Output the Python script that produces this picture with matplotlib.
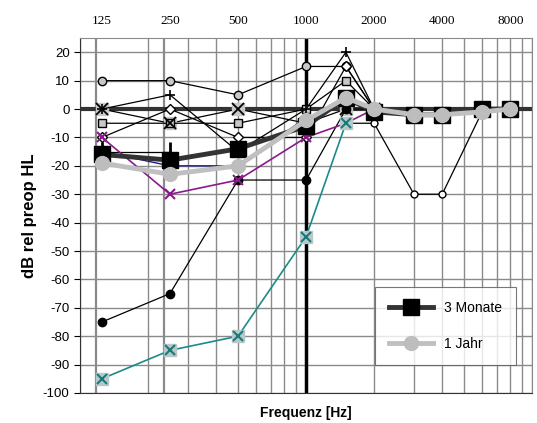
import matplotlib.pyplot as plt
import numpy as np
from matplotlib.ticker import FixedLocator, NullFormatter, NullLocator

nan = np.nan

# frequencies (Hz)
freqs = [125, 250, 500, 1000, 1500, 2000, 3000, 4000, 6000, 8000]
top_ticks = [125, 250, 500, 1000, 2000, 4000, 8000]

# mean curves
monate3 = [-16, -18, -14, -6, 4, -1, -2, -2, 0, 0]
jahr1 = [-19, -23, -20, -4, 4, 0, -2, -2, -1, 0]

# individual patients (thin lines)
p_circle = [10, 10, 5, 15, 15, 0, nan, nan, nan, nan]
p_xsq = [0, -5, 0, -5, 0, 0, nan, nan, nan, nan]
p_diamond = [-10, 0, -10, -10, 15, 0, nan, nan, nan, nan]
p_square = [-5, -5, -5, 0, 10, 0, nan, nan, nan, nan]
p_tri = [0, 5, -15, 0, 20, 0, nan, nan, nan, nan]
p_dot = [-75, -65, -25, -25, 0, nan, nan, nan, nan, nan]
p_teal = [-95, -85, -80, -45, -5, nan, nan, nan, nan, nan]
p_purple = [-10, -30, -25, -10, -5, 0, nan, nan, nan, nan]
p_navy = [-15, -20, -20, -3, nan, nan, nan, nan, nan, nan]
p_open = [nan, nan, nan, nan, -5, -5, -30, -30, -1, nan]
p_bar = [-15, -15, nan, nan, nan, nan, nan, nan, nan, nan]

fig = plt.figure(figsize=(5.37, 4.23), dpi=100)
ax = fig.add_axes([0.149, 0.071, 0.842, 0.839])

ax.set_xscale('log')
ax.set_xlim(100, 10000)
ax.set_ylim(-100, 25)

# grid
ax.xaxis.set_major_locator(FixedLocator([100, 1000, 10000]))
ax.xaxis.set_minor_locator(FixedLocator([f * d for d in (100, 1000) for f in range(2, 10)]))
ax.xaxis.set_major_formatter(NullFormatter())
ax.xaxis.set_minor_formatter(NullFormatter())
ax.tick_params(axis='x', which='both', length=0)
ax.set_yticks(np.arange(-100, 21, 10))
ax.grid(True, which='both', axis='x', color='#8a8a8a', lw=1)
ax.grid(True, which='major', axis='y', color='#8a8a8a', lw=1)
for f in (118, 235):
    ax.axvline(f, color='#8a8a8a', lw=1.6, zorder=1)
ax.axvline(1000, color='black', lw=2.5, zorder=2)
ax.axhline(0, color='#333333', lw=3, zorder=2)

for s in ('top', 'right'):
    ax.spines[s].set_color('#8a8a8a')
ax.spines['left'].set_color('#333333')
ax.spines['bottom'].set_color('#333333')

ax.set_yticklabels([str(v) for v in range(-100, 21, 10)], fontsize=9.5,
                   family='Liberation Sans')
ax.tick_params(axis='y', length=4)

# thin patient lines
thin = dict(color='black', lw=0.9, zorder=3)
ax.plot(freqs, p_circle, marker='o', ms=6, mfc='#c8c8c8', mec='black', **thin)
ax.plot(freqs, p_xsq, marker='s', ms=8, mfc='#c8c8c8', mec='#c8c8c8', **thin)
ax.plot(freqs, p_xsq, marker='x', ms=8, mew=1.3, color='black', lw=0, zorder=4)
ax.plot(freqs, p_diamond, marker='D', ms=5, mfc='white', mec='black', **thin)
ax.plot(freqs, p_square, marker='s', ms=6, mfc='#c8c8c8', mec='black', **thin)
ax.plot(freqs, p_tri, marker='+', ms=7, mew=1.2, **thin)
ax.plot(freqs, p_dot, marker='o', ms=6, mfc='black', mec='black', **thin)
ax.plot(freqs, p_open, marker='o', ms=5, mfc='white', mec='black', **thin)
ax.plot(freqs, p_bar, marker='|', ms=14, mew=2, **thin)
ax.plot(freqs, p_navy, color='#1a1a8c', lw=1, zorder=3)
ax.plot(freqs, p_purple, color='#8b1a8b', lw=1.2, marker='x', ms=7,
        mew=1.5, zorder=3)
ax.plot(freqs, p_teal, color='#1a8a8a', lw=1.2, marker='s', ms=8,
        mfc='#b8c8c8', mec='#b8c8c8', zorder=3)
ax.plot(freqs, p_teal, color='#1a7a7a', lw=0, marker='x', ms=7, mew=1.5,
        zorder=4)

# mean lines
ax.plot(freqs, monate3, color='#333333', lw=3.5, marker='s', ms=12,
        mfc='black', mec='black', zorder=5, label='3 Monate')
ax.plot(freqs, jahr1, color='#c0c0c0', lw=3.5, marker='o', ms=10,
        mfc='#bdbdbd', mec='#bdbdbd', zorder=6, label='1 Jahr')

leg = ax.legend(loc='lower right', bbox_to_anchor=(0.965, 0.079),
                borderaxespad=0, frameon=True, fancybox=False,
                edgecolor='#555555', borderpad=1.0, labelspacing=1.6,
                handlelength=3.2,
                prop={'family': 'Liberation Sans', 'size': 10})
leg.get_frame().set_linewidth(0.8)
leg.set_zorder(10)

# top frequency labels
ax2 = ax.twiny()
ax2.set_xscale('log')
ax2.set_xlim(ax.get_xlim())
ax2.set_xticks(top_ticks)
ax2.set_xticklabels([str(t) for t in top_ticks], fontsize=9.5,
                    family='Liberation Serif')
ax2.xaxis.set_minor_locator(NullLocator())
ax2.tick_params(axis='x', length=0, pad=8)
for s in ax2.spines.values():
    s.set_visible(False)

ax.set_ylabel('dB rel preop HL', fontsize=12, fontweight='bold',
              family='Liberation Sans', labelpad=4)
ax.set_xlabel('Frequenz [Hz]', fontsize=10, fontweight='bold',
              family='Liberation Sans', labelpad=6)

fig.savefig('out.png', dpi=100)
